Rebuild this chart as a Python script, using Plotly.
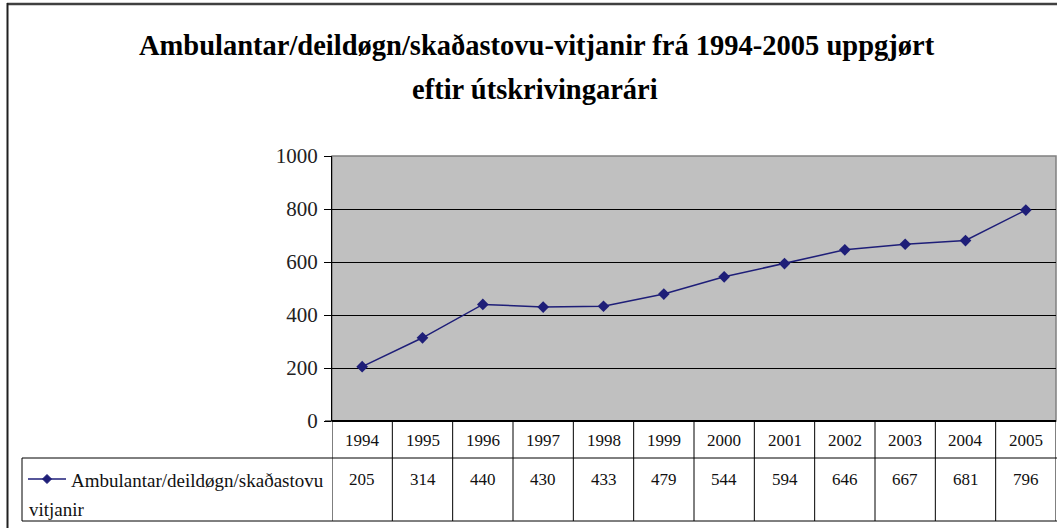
import plotly.graph_objects as go

years = ["1994", "1995", "1996", "1997", "1998", "1999", "2000", "2001", "2002", "2003", "2004", "2005"]
values = [205, 314, 440, 430, 433, 479, 544, 594, 646, 667, 681, 796]
series_name = "Ambulantar/deildøgn/skaðastovu vitjanir"
title_lines = ["Ambulantar/deildøgn/skaðastovu-vitjanir frá 1994-2005 uppgjørt", "eftir útskrivingarári"]
y_ticks = [0, 200, 400, 600, 800, 1000]

W, H = 1057, 528
L, R, T, B = 332, 1, 156, 107
PW = W - L - R
PH = H - T - B

def px(x):
    return (x - L) / PW

def py(y):
    return (H - B - y) / PH

FONT = "Times New Roman, Liberation Serif, DejaVu Serif, serif"
NAVY = "#1E1E78"

fig = go.Figure()
fig.add_trace(go.Scatter(
    x=years, y=values, mode="lines+markers",
    line=dict(color=NAVY, width=1.5),
    marker=dict(symbol="diamond", size=9, color=NAVY),
    showlegend=False, hoverinfo="x+y",
))

shapes = []
# outer chart frame
shapes.append(dict(type="line", xref="paper", yref="paper", x0=px(7), x1=px(1060), y0=py(4), y1=py(4),
                   line=dict(color="#404040", width=2.5)))
shapes.append(dict(type="line", xref="paper", yref="paper", x0=px(7.5), x1=px(7.5), y0=py(3), y1=py(530),
                   line=dict(color="#202020", width=2)))
# plot area border (gray)
shapes.append(dict(type="rect", xref="paper", yref="paper", x0=0, x1=1, y0=0, y1=1,
                   line=dict(color="#808080", width=1.5), layer="below"))
# table horizontal lines
for yy in [458, 521]:
    shapes.append(dict(type="line", xref="paper", yref="paper", x0=px(22), x1=px(1058), y0=py(yy), y1=py(yy),
                       line=dict(color="black", width=1)))
# table vertical lines at category boundaries
for k in range(len(years) + 1):
    shapes.append(dict(type="line", xref="x", yref="paper", x0=k - 0.5, x1=k - 0.5, y0=py(421), y1=py(521),
                       line=dict(color="black", width=1)))
shapes.append(dict(type="line", xref="paper", yref="paper", x0=px(22), x1=px(22), y0=py(458), y1=py(521),
                   line=dict(color="black", width=1)))
# zero tick extension
shapes.append(dict(type="line", xref="paper", yref="paper", x0=px(325), x1=0, y0=0, y1=0,
                   line=dict(color="black", width=1)))
# legend key line and diamond
shapes.append(dict(type="line", xref="paper", yref="paper", x0=px(28), x1=px(66), y0=py(479), y1=py(479),
                   line=dict(color=NAVY, width=1.5)))
cx, cy, d = 47, 479, 4.5
diamond = "M {},{} L {},{} L {},{} L {},{} Z".format(
    px(cx), py(cy - d), px(cx + d), py(cy), px(cx), py(cy + d), px(cx - d), py(cy))
shapes.append(dict(type="path", xref="paper", yref="paper", path=diamond,
                   fillcolor=NAVY, line=dict(color=NAVY, width=1)))

annotations = []
annotations.append(dict(text=title_lines[0], xref="paper", yref="paper", x=px(537), y=py(45),
                        showarrow=False, xanchor="center", yanchor="middle",
                        font=dict(family=FONT, size=28.5, color="black", weight="bold")))
annotations.append(dict(text=title_lines[1], xref="paper", yref="paper", x=px(535), y=py(89),
                        showarrow=False, xanchor="center", yanchor="middle",
                        font=dict(family=FONT, size=28.5, color="black", weight="bold")))
for i, (yr, v) in enumerate(zip(years, values)):
    annotations.append(dict(text=yr, xref="x", yref="paper", x=i, y=py(440), showarrow=False,
                            xanchor="center", yanchor="middle", font=dict(family=FONT, size=17, color="#111111")))
    annotations.append(dict(text=str(v), xref="x", yref="paper", x=i, y=py(479), showarrow=False,
                            xanchor="center", yanchor="middle", font=dict(family=FONT, size=17, color="#111111")))
name_parts = series_name.split(" ")
annotations.append(dict(text=name_parts[0], xref="paper", yref="paper", x=px(69), y=py(480), showarrow=False,
                        xanchor="left", yanchor="middle", font=dict(family=FONT, size=19, color="#111111")))
annotations.append(dict(text=name_parts[1], xref="paper", yref="paper", x=px(27), y=py(509), showarrow=False,
                        xanchor="left", yanchor="middle", font=dict(family=FONT, size=19, color="#111111")))

fig.update_layout(
    width=W, height=H,
    margin=dict(l=L, r=R, t=T, b=B),
    paper_bgcolor="white", plot_bgcolor="#C0C0C0",
    shapes=shapes, annotations=annotations,
    xaxis=dict(type="category", range=[-0.5, len(years) - 0.5], showticklabels=False, ticks="",
               showgrid=False, zeroline=False, showline=False, fixedrange=True),
    yaxis=dict(range=[0, 1000], tickvals=y_ticks, ticks="outside", ticklen=7, tickcolor="black",
               showgrid=True, gridcolor="black", gridwidth=1, zeroline=True, zerolinecolor="black",
               showline=True, linecolor="black", linewidth=1,
               tickfont=dict(family=FONT, size=21, color="#222222"), ticklabelstandoff=2, fixedrange=True),
    showlegend=False,
)

fig.write_html("out.html", config={"displayModeBar": False},
               post_script="document.body.style.margin='0';document.body.style.overflow='hidden';")
